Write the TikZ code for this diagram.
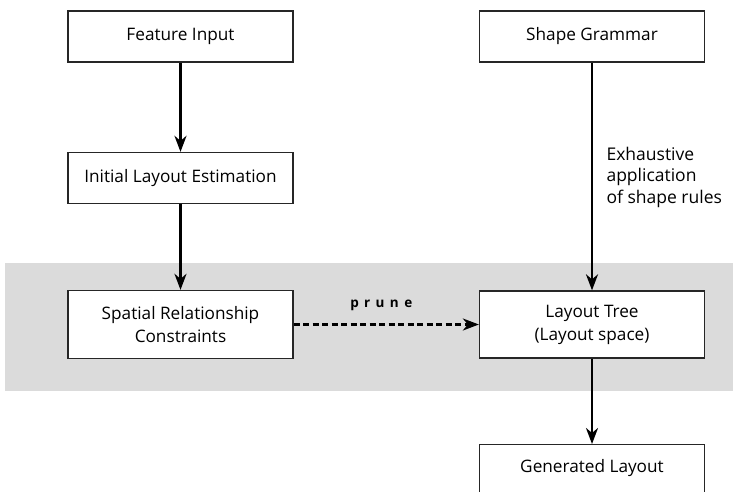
\documentclass[tikz,border=0pt]{standalone}
\usepackage{fontspec}
\setmainfont{Open Sans}
\usetikzlibrary{arrows.meta}
\tikzset{
  stagebox/.style={draw=black!85, line width=1.3pt, fill=white, rectangle,
    minimum width=225pt, align=center, font=\fontsize{17.2}{23}\selectfont, inner sep=2pt},
  flow/.style={line width=2.4pt, -{Stealth[length=16pt, width=12pt, inset=5pt]}},
  dashflow/.style={flow, dash pattern=on 6pt off 3.5pt},
}
\begin{document}
\begin{tikzpicture}[x=1pt, y=-1pt]
  \useasboundingbox (0,0) rectangle (733,492);
  \clip (0,0) rectangle (733,492);
  % shaded band behind the pruning stage
  \fill[black!14] (5,263) rectangle (733,391);

  % left column
  \node[stagebox, minimum height=51pt] (feat) at (180.5,36.5) {Feature Input};
  \node[stagebox, minimum height=51pt] (init) at (180.5,178) {Initial Layout Estimation};
  \node[stagebox, minimum height=68pt] (spat) at (180.5,324.5) {Spatial Relationship\\Constraints};

  % right column
  \node[stagebox, minimum height=51pt] (gram) at (592,36.5) {Shape Grammar};
  \node[stagebox, minimum height=67pt] (tree) at (592,324.5) {Layout Tree\\(Layout space)};
  \node[stagebox, minimum height=60pt, anchor=north] (gen) at (592,444) {\raisebox{18pt}{Generated Layout}};

  % connectors
  \draw[flow] (feat.south) -- (init.north);
  \draw[flow] (init.south) -- (spat.north);
  \draw[flow] (gram.south) -- node[right, xshift=10pt, yshift=-0.5pt, align=left,
      font=\fontsize{17.5}{21.5}\selectfont] {Exhaustive\\application\\of shape rules} (tree.north);
  \draw[flow] (tree.south) -- (gen.north);
  \draw[dashflow] (spat.east) -- node[above, yshift=9pt, xshift=-5pt,
      font=\fontsize{13.5}{13.5}\bfseries\addfontfeatures{LetterSpace=40}] {prune} (tree.west);
\end{tikzpicture}
\end{document}
